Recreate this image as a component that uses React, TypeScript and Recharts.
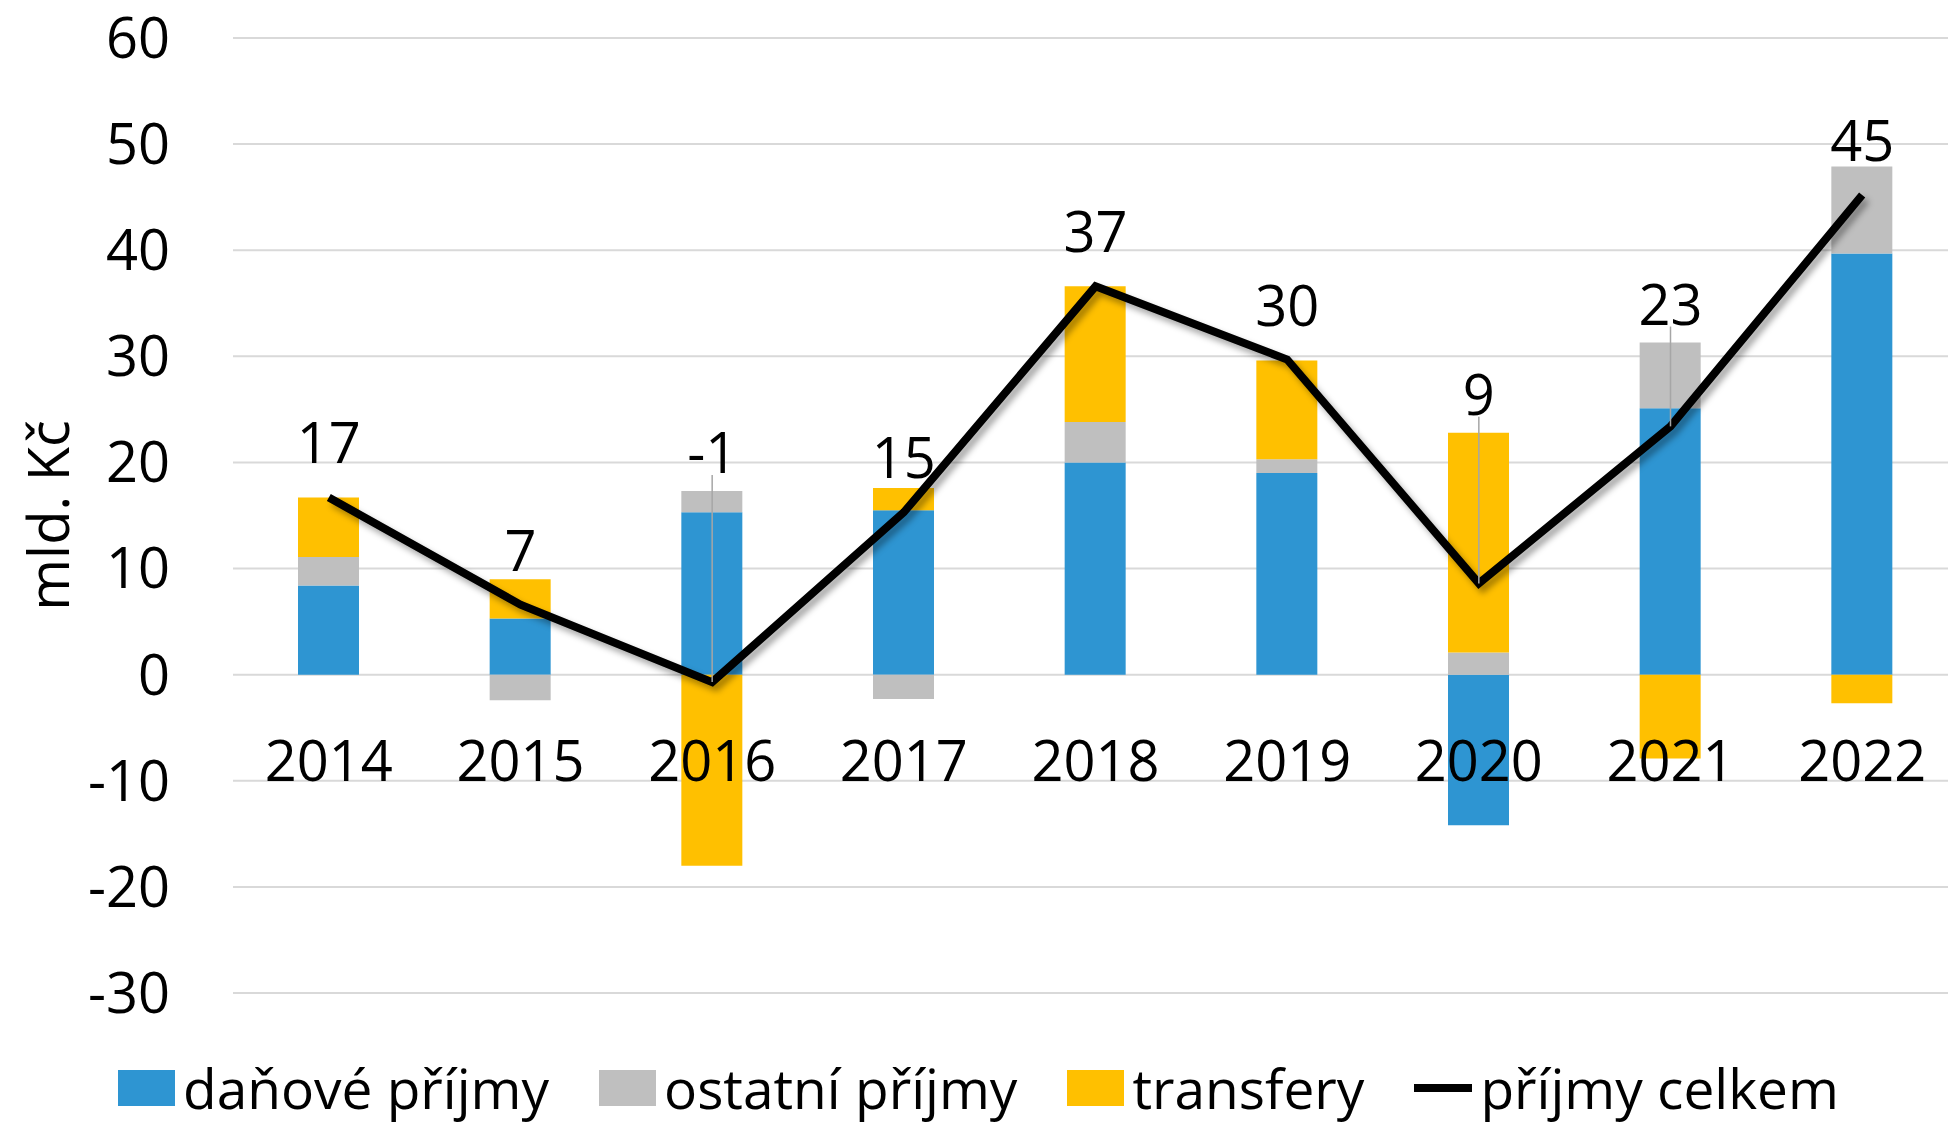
import React from 'react';
import { ComposedChart, Bar, Line, XAxis, YAxis, CartesianGrid, Legend, LabelList } from 'recharts';

// mld. Kč
const years = ['2014', '2015', '2016', '2017', '2018', '2019', '2020', '2021', '2022'];
const danovePrijmy = [8.4, 5.3, 15.3, 15.5, 20.0, 19.0, -14.2, 25.1, 39.7];
const ostatniPrijmy = [2.7, -2.4, 2.0, -2.3, 3.8, 1.3, 2.1, 6.2, 8.2];
const transfery = [5.6, 3.7, -18.0, 2.1, 12.8, 9.3, 20.7, -7.9, -2.7];
const prijmyCelkem = [16.7, 6.6, -0.7, 15.3, 36.6, 29.7, 8.6, 23.4, 45.2];
const yTicks = [-30, -20, -10, 0, 10, 20, 30, 40, 50, 60];
const seriesNames = ['daňové příjmy', 'ostatní příjmy', 'transfery', 'příjmy celkem'];

const data = years.map((year, i) => ({
  year,
  danove: danovePrijmy[i],
  ostatni: ostatniPrijmy[i],
  transfery: transfery[i],
  celkem: prijmyCelkem[i],
}));

const CHART_W = 1958;
const CHART_H = 1127;
const TOP = 38;
const LEGEND_H = 133;
const XAXIS_H = 1;
const PX_PER_UNIT = (CHART_H - TOP - LEGEND_H - XAXIS_H) / (yTicks[yTicks.length - 1] - yTicks[0]);
const FONT = "'Open Sans', 'Noto Sans', sans-serif";

// total label above the point; pushed above the bar when the bar would cover it
const TotalLabel = (props: any) => {
  const { x, y, value, index } = props;
  const posTop = [danovePrijmy[index], ostatniPrijmy[index], transfery[index]]
    .filter((v) => v > 0)
    .reduce((a, b) => a + b, 0);
  const gap = posTop - value;
  const moved = gap > 3.4;
  const cy = moved ? y - gap * PX_PER_UNIT - 40 : y - 56;
  return (
    <g>
      {moved && <line x1={x} y1={cy + 24} x2={x} y2={y} stroke="#A6A6A6" strokeWidth={1.5} />}
      <text x={x} y={cy} textAnchor="middle" dominantBaseline="central" fill="#000" fontSize={56} fontFamily={FONT}>
        {Math.round(value)}
      </text>
    </g>
  );
};

// year labels sit just under the zero line, inside the plot
const YearTick = (props: any) => {
  const { x, y, payload } = props;
  return (
    <text x={x} y={y} dy={-212} textAnchor="middle" fill="#000" fontSize={56} fontFamily={FONT}>
      {payload.value}
    </text>
  );
};

const renderLegend = (props: any) => {
  const payload = [...(props.payload || [])].sort(
    (a: any, b: any) => seriesNames.indexOf(a.value) - seriesNames.indexOf(b.value)
  );
  return (
    <div
      style={{
        height: LEGEND_H,
        boxSizing: 'border-box',
        paddingTop: 66,
        paddingLeft: 118,
        display: 'flex',
        alignItems: 'flex-start',
        fontFamily: FONT,
      }}
    >
      {payload.map((entry: any, i: number) => (
        <div key={i} style={{ display: 'flex', alignItems: 'center', height: 56, marginRight: 50 }}>
          {entry.type === 'line' ? (
            <div style={{ width: 58, height: 8, background: entry.color }} />
          ) : (
            <div style={{ width: 57, height: 36, background: entry.color }} />
          )}
          <span style={{ marginLeft: 8, fontSize: 55, lineHeight: '56px', color: '#000', whiteSpace: 'nowrap' }}>
            {entry.value}
          </span>
        </div>
      ))}
    </div>
  );
};

const YLabel = (props: any) => {
  const { viewBox } = props;
  const cy = viewBox.y + viewBox.height / 2;
  return (
    <text
      x={47}
      y={cy}
      transform={`rotate(-90, 47, ${cy})`}
      textAnchor="middle"
      dominantBaseline="central"
      fill="#000"
      fontSize={56}
      fontFamily={FONT}
    >
      mld. Kč
    </text>
  );
};

const App: React.FC = () => {
  return (
    <div
      style={{
        position: 'fixed',
        left: 0,
        top: 0,
        width: 1948,
        height: 1127,
        overflow: 'hidden',
        background: '#fff',
        fontFamily: FONT,
      }}
    >
      <style>{`.celkem-line .recharts-line-curve { filter: drop-shadow(4px 5px 3px rgba(0,0,0,0.35)); }`}</style>
      <ComposedChart
        width={CHART_W}
        height={CHART_H}
        data={data}
        stackOffset="sign"
        margin={{ top: TOP, right: 0, left: 0, bottom: 0 }}
      >
        <CartesianGrid vertical={false} stroke="#D9D9D9" strokeWidth={2} />
        <XAxis
          dataKey="year"
          axisLine={false}
          tickLine={false}
          tickSize={0}
          tickMargin={0}
          height={XAXIS_H}
          interval={0}
          tick={<YearTick />}
        />
        <YAxis
          domain={[-30, 60]}
          ticks={yTicks}
          width={233}
          axisLine={false}
          tickLine={false}
          tickSize={0}
          tickMargin={63}
          interval={0}
          tick={{ fill: '#000', fontSize: 56, fontFamily: FONT }}
          label={<YLabel />}
        />
        <Legend verticalAlign="bottom" content={renderLegend} />
        <Bar dataKey="danove" name={seriesNames[0]} stackId="a" fill="#2E95D2" barSize={61} isAnimationActive={false} />
        <Bar dataKey="ostatni" name={seriesNames[1]} stackId="a" fill="#BFBFBF" barSize={61} isAnimationActive={false} />
        <Bar dataKey="transfery" name={seriesNames[2]} stackId="a" fill="#FFC000" barSize={61} isAnimationActive={false} />
        <Line
          className="celkem-line"
          type="linear"
          dataKey="celkem"
          name={seriesNames[3]}
          stroke="#000"
          strokeWidth={8}
          dot={false}
          activeDot={false}
          isAnimationActive={false}
        >
          <LabelList dataKey="celkem" content={<TotalLabel />} />
        </Line>
      </ComposedChart>
    </div>
  );
};

export default App;
